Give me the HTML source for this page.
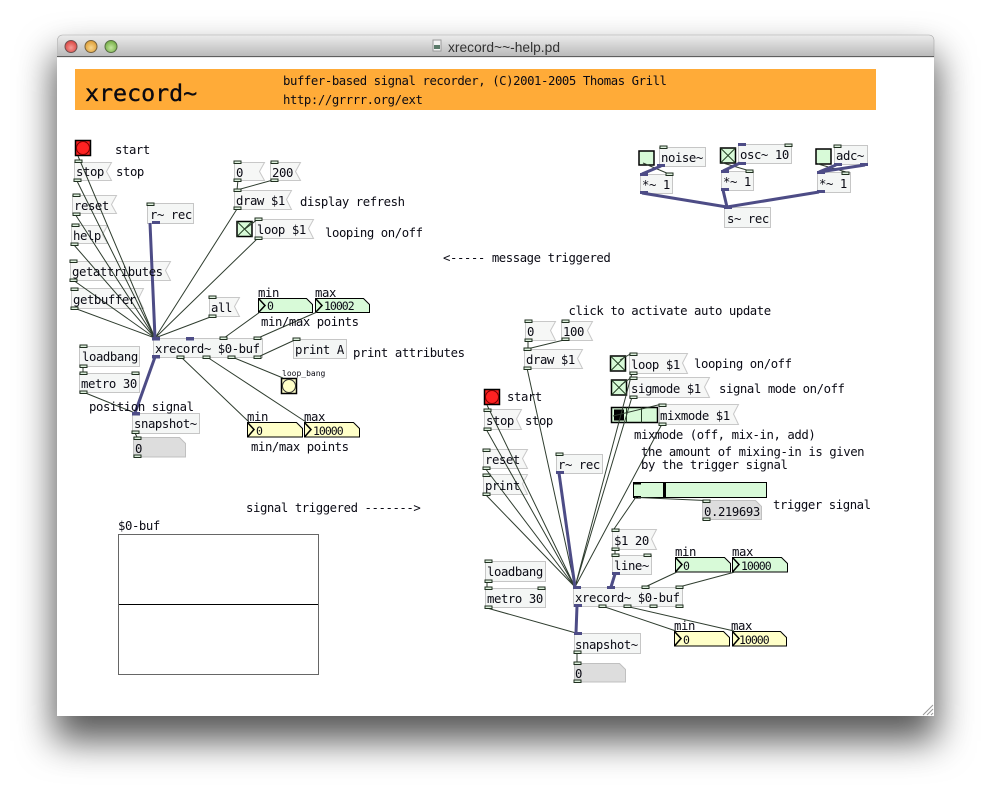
<!DOCTYPE html>
<html><head><meta charset="utf-8"><title>xrecord~~-help.pd</title>
<style>
html,body{margin:0;padding:0;background:#fff;width:991px;height:795px;overflow:hidden}
#win{position:absolute;left:57px;top:35px;width:877px;height:681px;border-radius:5px 5px 0 0;box-shadow:0 22px 36px 3px rgba(0,0,0,.65);background:#fff}
svg{position:absolute;left:0;top:0}
text{font-family:"DejaVu Sans Mono","Liberation Mono",monospace;font-size:12.3px;letter-spacing:-.43px;fill:#0a0a14}
text.n{font-size:11.5px;letter-spacing:-1px}
.m{fill:#f6f7f6;stroke:#c8c8c8}
.o{fill:#f4f6f5;stroke:#c6c6c6}
.g{fill:#ddd;stroke:#c0c0c0}
.gr{fill:#d8fad8;stroke:#000}
.ye{fill:#ffffc8;stroke:#000}
.tg{fill:#d8fad8;stroke:#000;stroke-width:1.5}
.c{stroke:#2f3d2f;stroke-width:1;fill:none}
.s{stroke:#4d4c86;stroke-width:3;fill:none}
.p{fill:#dcefdc;stroke:#1f2f1f;stroke-width:1}
.q{fill:#4d4c86}
</style></head><body>
<div id="win"></div>
<svg width="991" height="795" viewBox="0 0 991 795">
<defs><linearGradient id="tb" x1="0" y1="0" x2="0" y2="1"><stop offset="0" stop-color="#ececec"/><stop offset="1" stop-color="#b8b8b8"/></linearGradient>
<radialGradient id="r1" cx=".5" cy=".6" r=".6"><stop offset="0" stop-color="#f59a96"/><stop offset="1" stop-color="#d8403c"/></radialGradient>
<radialGradient id="r2" cx=".5" cy=".6" r=".6"><stop offset="0" stop-color="#f8d68e"/><stop offset="1" stop-color="#dc9a30"/></radialGradient>
<radialGradient id="r3" cx=".5" cy=".6" r=".6"><stop offset="0" stop-color="#c4e6a0"/><stop offset="1" stop-color="#70ab40"/></radialGradient></defs>
<path d="M57.5 57V40a5 5 0 0 1 5-5H929a5 5 0 0 1 5 5V57Z" fill="url(#tb)" stroke="#a8a8a8" stroke-width=".6"/>
<line x1="57" y1="56.5" x2="934" y2="56.5" stroke="#5e5e5e"/>
<circle cx="71" cy="46.5" r="6" fill="url(#r1)" stroke="#6e5050"/>
<circle cx="91" cy="46.5" r="6" fill="url(#r2)" stroke="#77623e"/>
<circle cx="111" cy="46.5" r="6" fill="url(#r3)" stroke="#566e44"/>
<rect x="433" y="40" width="8" height="11" fill="#f4f4f4" stroke="#999"/><rect x="434" y="45" width="6" height="4" fill="#5b7a6a"/>
<text x="448" y="52" textLength="112" lengthAdjust="spacingAndGlyphs" style="font-family:'Liberation Sans',sans-serif;font-size:14px;letter-spacing:0;fill:#333">xrecord~~-help.pd</text>
<path d="M923 715L933 705M927 715L933 709M931 715L933 713" stroke="#999" fill="none"/>

<rect x="75" y="69" width="801" height="41" fill="#ffab38"/>
<text x="85" y="101" style="font-size:23.3px;letter-spacing:0;stroke:#000;stroke-width:.3">xrecord~</text>
<text x="283" y="85">buffer-based signal recorder, (C)2001-2005 Thomas Grill</text>
<text x="283" y="104">http://grrrr.org/ext</text>

<!-- left patch boxes -->
<rect x="75.5" y="140.5" width="15" height="15" fill="#f22" stroke="#000" stroke-width="1.5"/><circle cx="83" cy="148" r="6.5" fill="#f22" stroke="#700"/>
<polygon class="m" points="74.5,162.5 111.5,162.5 106.5,171.5 111.5,180.5 74.5,180.5"/>
<polygon class="m" points="72.5,195.5 116.5,195.5 111.5,204.5 116.5,213.5 72.5,213.5"/>
<polygon class="m" points="71.5,225.5 107.5,225.5 102.5,234.5 107.5,243.5 71.5,243.5"/>
<polygon class="m" points="70.5,261.5 170.5,261.5 165.5,270.5 170.5,280.5 70.5,280.5"/>
<polygon class="m" points="71.5,288.5 143.5,288.5 138.5,298.5 143.5,308.5 71.5,308.5"/>
<polygon class="m" points="209.5,297.5 239.5,297.5 234.5,306.5 239.5,316.5 209.5,316.5"/>
<rect class="o" x="147.5" y="203.5" width="46" height="20"/>
<polygon class="m" points="234.5,162.5 264.5,162.5 259.5,171.5 264.5,180.5 234.5,180.5"/>
<polygon class="m" points="270.5,162.5 300.5,162.5 295.5,171.5 300.5,180.5 270.5,180.5"/>
<polygon class="m" points="234.5,190.5 291.5,190.5 286.5,199.5 291.5,209.5 234.5,209.5"/>
<rect class="tg" x="237" y="221.5" width="15" height="15"/><path d="M237 221.5L252 236.5M252 221.5L237 236.5" stroke="#264026"/>
<polygon class="m" points="255.5,219.5 313.5,219.5 308.5,228.5 313.5,238.5 255.5,238.5"/>
<polygon class="gr" points="258.5,298.5 306.5,298.5 312.5,304.5 312.5,312.5 258.5,312.5"/><polyline points="258.5,298.5 265,305.5 258.5,312.5" fill="none" stroke="#000" stroke-width="1.5"/>
<polygon class="gr" points="315.5,298.5 363.5,298.5 369.5,304.5 369.5,312.5 315.5,312.5"/><polyline points="315.5,298.5 322,305.5 315.5,312.5" fill="none" stroke="#000" stroke-width="1.5"/>
<rect class="o" x="153.5" y="338.5" width="109" height="19"/>
<rect class="o" x="293.5" y="339.5" width="53" height="19"/>
<rect class="o" x="79.5" y="346.5" width="60" height="20"/>
<rect class="o" x="79.5" y="373.5" width="60" height="19"/>
<rect class="o" x="132.5" y="413.5" width="67" height="20"/>
<polygon class="g" points="133.5,437.5 179.5,437.5 185.5,443.5 185.5,457 133.5,457"/>
<rect x="281.5" y="378.5" width="15" height="15" fill="#ffffc8" stroke="#000" stroke-width="1.5"/><circle cx="289" cy="386" r="6.5" fill="#ffffc8" stroke="#333"/>
<polygon class="ye" points="247.5,422.5 296.5,422.5 302.5,428.5 302.5,437 247.5,437"/><polyline points="247.5,422.5 254,429.5 247.5,437" fill="none" stroke="#000" stroke-width="1.5"/>
<polygon class="ye" points="304.5,422.5 353.5,422.5 359.5,428.5 359.5,437 304.5,437"/><polyline points="304.5,422.5 311,429.5 304.5,437" fill="none" stroke="#000" stroke-width="1.5"/>

<!-- top right boxes -->
<rect class="tg" x="639" y="151" width="15" height="14"/>
<rect class="o" x="659.5" y="147.5" width="46" height="19"/>
<rect class="o" x="640.5" y="174.5" width="32" height="19"/>
<rect class="tg" x="720.5" y="148" width="15" height="15"/><path d="M720.5 148L735.5 163M735.5 148L720.5 163" stroke="#264026"/>
<rect class="o" x="738.5" y="144.5" width="53" height="19"/>
<rect class="o" x="721.5" y="171.5" width="32" height="19"/>
<rect class="tg" x="816" y="149" width="15" height="15"/>
<rect class="o" x="834.5" y="145.5" width="33" height="19"/>
<rect class="o" x="817.5" y="172.5" width="33" height="20"/>
<rect class="o" x="724.5" y="207.5" width="46" height="20"/>

<!-- right patch boxes -->
<polygon class="m" points="525.5,321.5 555.5,321.5 550.5,330.5 555.5,340.5 525.5,340.5"/>
<polygon class="m" points="561.5,321.5 592.5,321.5 587.5,330.5 592.5,340.5 561.5,340.5"/>
<polygon class="m" points="524.5,349.5 582.5,349.5 577.5,358.5 582.5,368.5 524.5,368.5"/>
<rect class="tg" x="610.5" y="356" width="15" height="15"/><path d="M610.5 356L625.5 371M625.5 356L610.5 371" stroke="#264026"/>
<polygon class="m" points="629.5,353.5 687.5,353.5 682.5,363 687.5,373.5 629.5,373.5"/>
<rect class="tg" x="611.5" y="380" width="15" height="15"/><path d="M611.5 380L626.5 395M626.5 380L611.5 395" stroke="#264026"/>
<polygon class="m" points="629.5,377.5 709.5,377.5 704.5,387 709.5,397.5 629.5,397.5"/>
<rect x="611.5" y="407.5" width="46" height="15" fill="#d8fad8" stroke="#000" stroke-width="1.5"/><rect x="614" y="409.5" width="10" height="11" fill="#000"/><path d="M626.5 407.5V422.5M641.5 407.5V422.5" stroke="#264026"/>
<polygon class="m" points="659.5,404.5 738.5,404.5 733.5,414 738.5,424.5 659.5,424.5"/>
<rect x="484.5" y="389.5" width="15" height="15" fill="#f22" stroke="#000" stroke-width="1.5"/><circle cx="492" cy="397" r="6.5" fill="#f22" stroke="#700"/>
<polygon class="m" points="484.5,409.5 521.5,409.5 516.5,419 521.5,429.5 484.5,429.5"/>
<polygon class="m" points="483.5,449.5 527.5,449.5 522.5,458.5 527.5,468.5 483.5,468.5"/>
<polygon class="m" points="483.5,474.5 527.5,474.5 522.5,484 527.5,494.5 483.5,494.5"/>
<rect class="o" x="556.5" y="454.5" width="46" height="19"/>
<rect x="633.5" y="482.5" width="133" height="15" fill="#d8fad8" stroke="#000"/><rect x="663" y="483" width="3" height="14" fill="#000"/><rect x="634" y="482" width="7" height="2.5" fill="#000"/><rect x="634" y="496" width="7" height="2.5" fill="#000"/>
<polygon class="g" points="702.5,500.5 755.5,500.5 761.5,506.5 761.5,519.5 702.5,519.5"/>
<polygon class="m" points="612.5,529.5 656.5,529.5 651.5,539 656.5,549.5 612.5,549.5"/>
<rect class="o" x="612.5" y="555.5" width="39" height="19"/>
<polygon class="gr" points="675.5,557.5 724.5,557.5 730.5,563.5 730.5,572 675.5,572"/><polyline points="675.5,557.5 682,564.5 675.5,572" fill="none" stroke="#000" stroke-width="1.5"/>
<polygon class="gr" points="732.5,557.5 781.5,557.5 787.5,563.5 787.5,572 732.5,572"/><polyline points="732.5,557.5 739,564.5 732.5,572" fill="none" stroke="#000" stroke-width="1.5"/>
<rect class="o" x="485.5" y="561.5" width="60" height="20"/>
<rect class="o" x="485.5" y="588.5" width="60" height="19"/>
<rect class="o" x="573.5" y="587.5" width="109" height="19"/>
<rect class="o" x="574.5" y="633.5" width="66" height="20"/>
<polygon class="g" points="574.5,663.5 619.5,663.5 625.5,669.5 625.5,682 574.5,682"/>
<polygon class="ye" points="674.5,631.5 723.5,631.5 729.5,637.5 729.5,646 674.5,646"/><polyline points="674.5,631.5 681,638.5 674.5,646" fill="none" stroke="#000" stroke-width="1.5"/>
<polygon class="ye" points="732.5,631.5 780.5,631.5 786.5,637.5 786.5,646 732.5,646"/><polyline points="732.5,631.5 739,638.5 732.5,646" fill="none" stroke="#000" stroke-width="1.5"/>

<!-- graph -->
<rect x="118.5" y="534.5" width="200" height="140" fill="#fff" stroke="#666"/>
<line x1="119" y1="604.5" x2="318" y2="604.5" stroke="#000"/>

<!-- wires -->
<path class="c" d="M78 156L155 338M77 181L155 338M75 214L155 338M74 245L155 338M73 280L155 338M74 308L155 338M213 316L155 338M237 209L155 338M258 238L155 338M260 312L224 338M317 312L258 338M258 357L297 339M232 357L283 378M181 357L249 422M207 357L306 422M83 392L135 413M83 366V373M238 180L237 190M273 180L237 190M245 229L258 219M135 433L137 437"/>
<path class="s" d="M150 223L155 338M155 357L135 413"/>
<path class="c" d="M643 163L669 174M723 163L750 171M818 164L846 172"/>
<path class="s" d="M661 166L642 174M740 163L723 171M836 165L819 172M865 165L819 172M642 193L727 207M723 190L727 207M819 192L727 207"/>
<path class="c" d="M487 405L575 587M486 429L575 587M485 468L575 587M485 494L575 587M527 368L575 587M632 373L575 587M632 397L575 587M662 424L575 587M613 416L662 404M620 360L632 353M621 385L632 377M636 497L614 529M638 497.5L705 500.5M615 549V555M677 572L645 587M735 572L679 587M602 606L676 631M625 606L734 631M487 608L576 633M577 653V663M487 581V588M528 340V349M564 340L527 349"/>
<path class="s" d="M559 473L575 587M615 574L611 587M577 606L576 633"/>

<!-- ports -->
<g class="p">
<rect x="75" y="160" width="7" height="2.5"/><rect x="74" y="179" width="7" height="2.5"/><rect x="73" y="194" width="7" height="2.5"/><rect x="73" y="213" width="7" height="2.5"/><rect x="72" y="224" width="7" height="2.5"/><rect x="71" y="243" width="7" height="2.5"/><rect x="70" y="260" width="7" height="2.5"/><rect x="70" y="279" width="7" height="2.5"/><rect x="71" y="288" width="7" height="2.5"/><rect x="71" y="307" width="7" height="2.5"/><rect x="209" y="296" width="7" height="2.5"/><rect x="209" y="315" width="7" height="2.5"/>
<rect x="147" y="203" width="7" height="2.5"/><rect x="234" y="161" width="7" height="2.5"/><rect x="234" y="179" width="7" height="2.5"/><rect x="271" y="161" width="7" height="2.5"/><rect x="271" y="179" width="7" height="2.5"/><rect x="234" y="189" width="7" height="2.5"/><rect x="234" y="207" width="7" height="2.5"/><rect x="255" y="218" width="7" height="2.5"/><rect x="255" y="237" width="7" height="2.5"/>
<rect x="220" y="337" width="7" height="2.5"/><rect x="254" y="337" width="7" height="2.5"/><rect x="177" y="356" width="7" height="2.5"/><rect x="203" y="356" width="7" height="2.5"/><rect x="228" y="356" width="7" height="2.5"/><rect x="254" y="356" width="7" height="2.5"/><rect x="293" y="338" width="7" height="2.5"/>
<rect x="80" y="345" width="7" height="2.5"/><rect x="80" y="365" width="7" height="2.5"/><rect x="80" y="372" width="7" height="2.5"/><rect x="132" y="372" width="7" height="2.5"/><rect x="80" y="391" width="7" height="2.5"/><rect x="132" y="431" width="7" height="2.5"/><rect x="134" y="437" width="7" height="2.5"/><rect x="134" y="455" width="7" height="2.5"/>
<rect x="660" y="146" width="7" height="2.5"/><rect x="666" y="173" width="7" height="2.5"/><rect x="785" y="144" width="7" height="2.5"/><rect x="746" y="170" width="7" height="2.5"/><rect x="834" y="145" width="7" height="2.5"/><rect x="842" y="172" width="7" height="2.5"/>
<rect x="525" y="320" width="7" height="2.5"/><rect x="525" y="339" width="7" height="2.5"/><rect x="562" y="320" width="7" height="2.5"/><rect x="562" y="338" width="7" height="2.5"/><rect x="524" y="348" width="7" height="2.5"/><rect x="524" y="367" width="7" height="2.5"/>
<rect x="630" y="353" width="7" height="2.5"/><rect x="630" y="372" width="7" height="2.5"/><rect x="630" y="377" width="7" height="2.5"/><rect x="630" y="396" width="7" height="2.5"/><rect x="659" y="404" width="7" height="2.5"/><rect x="659" y="423" width="7" height="2.5"/>
<rect x="484" y="409" width="7" height="2.5"/><rect x="484" y="428" width="7" height="2.5"/><rect x="483" y="449" width="7" height="2.5"/><rect x="483" y="467" width="7" height="2.5"/><rect x="483" y="474" width="7" height="2.5"/><rect x="483" y="493" width="7" height="2.5"/><rect x="556" y="453" width="7" height="2.5"/>
<rect x="703" y="500" width="7" height="2.5"/><rect x="703" y="518" width="7" height="2.5"/><rect x="612" y="529" width="7" height="2.5"/><rect x="612" y="548" width="7" height="2.5"/><rect x="612" y="554" width="7" height="2.5"/><rect x="644" y="554" width="7" height="2.5"/>
<rect x="485" y="560" width="7" height="2.5"/><rect x="485" y="580" width="7" height="2.5"/><rect x="485" y="587" width="7" height="2.5"/><rect x="538" y="587" width="7" height="2.5"/><rect x="485" y="606" width="7" height="2.5"/>
<rect x="642" y="586" width="7" height="2.5"/><rect x="676" y="586" width="7" height="2.5"/><rect x="599" y="605" width="7" height="2.5"/><rect x="624" y="605" width="7" height="2.5"/><rect x="650" y="605" width="7" height="2.5"/><rect x="676" y="605" width="7" height="2.5"/>
<rect x="574" y="651" width="7" height="2.5"/><rect x="574" y="662" width="7" height="2.5"/><rect x="574" y="680" width="7" height="2.5"/>
</g>
<g class="q">
<rect x="152" y="221" width="8" height="3"/><rect x="152" y="337" width="8" height="3.5"/><rect x="186" y="337" width="8" height="3.5"/><rect x="152" y="355" width="8" height="3.5"/><rect x="132" y="412" width="8" height="3.5"/>
<rect x="640" y="173" width="8" height="3"/><rect x="657" y="164" width="8" height="3"/><rect x="640" y="191" width="8" height="3"/><rect x="738" y="143" width="8" height="3"/><rect x="738" y="162" width="8" height="3"/><rect x="721" y="170" width="8" height="3"/><rect x="721" y="188" width="8" height="3"/><rect x="817" y="171" width="8" height="3"/><rect x="817" y="190" width="8" height="3"/><rect x="834" y="163" width="8" height="3"/><rect x="860" y="163" width="8" height="3"/><rect x="724" y="206" width="8" height="3"/>
<rect x="556" y="471" width="8" height="3"/><rect x="612" y="572" width="8" height="3"/><rect x="573" y="586" width="8" height="3"/><rect x="607" y="586" width="8" height="3"/><rect x="574" y="604" width="8" height="3"/><rect x="574" y="632" width="8" height="3"/>
</g>

<!-- text -->
<text x="115" y="154">start</text><text x="116" y="176">stop</text>
<text x="76" y="176">stop</text><text x="74" y="210">reset</text><text x="73" y="240">help</text>
<text x="72" y="276">getattributes</text><text x="73" y="304">getbuffer</text><text x="211" y="312">all</text>
<text x="150" y="219">r~ rec</text><text x="236" y="177">0</text><text x="272" y="177">200</text>
<text x="236" y="205">draw $1</text><text x="300" y="206">display refresh</text>
<text x="257" y="234">loop $1</text><text x="325" y="237">looping on/off</text>
<text x="443" y="262">&lt;----- message triggered</text>
<text x="258" y="297">min</text><text x="315" y="297">max</text>
<text class="n" x="267" y="310">0</text><text class="n" x="324" y="310">10002</text>
<text x="261" y="326">min/max points</text>
<text x="155" y="353">xrecord~ $0-buf</text><text x="295" y="354">print A</text><text x="353" y="357">print attributes</text>
<text x="82" y="361">loadbang</text><text x="81" y="388">metro 30</text><text x="89" y="411">position signal</text>
<text x="134" y="428">snapshot~</text><text x="135" y="453">0</text>
<text x="282" y="376" style="font-size:8px;letter-spacing:0">loop_bang</text>
<text x="247" y="421">min</text><text x="304" y="421">max</text>
<text class="n" x="256" y="435">0</text><text class="n" x="313" y="435">10000</text>
<text x="251" y="451">min/max points</text>
<text x="118" y="530">$0-buf</text><text x="246" y="512">signal triggered -------&gt;</text>

<text x="661" y="162">noise~</text><text x="642" y="189">*~ 1</text><text x="740" y="159">osc~ 10</text><text x="723" y="186">*~ 1</text><text x="836" y="160">adc~</text><text x="819" y="188">*~ 1</text><text x="727" y="223">s~ rec</text>

<text x="568.5" y="315">click to activate auto update</text>
<text x="527" y="336">0</text><text x="563" y="336">100</text><text x="526" y="364">draw $1</text>
<text x="631" y="369">loop $1</text><text x="694" y="368">looping on/off</text>
<text x="631" y="393">sigmode $1</text><text x="719" y="393">signal mode on/off</text>
<text x="660" y="420">mixmode $1</text><text x="634" y="439">mixmode (off, mix-in, add)</text>
<text x="641" y="456">the amount of mixing-in is given</text><text x="641" y="469">by the trigger signal</text>
<text x="507" y="401">start</text><text x="486" y="425">stop</text><text x="525" y="425">stop</text>
<text x="485" y="464">reset</text><text x="485" y="490">print</text><text x="558" y="469">r~ rec</text>
<text x="704" y="516">0.219693</text><text x="773" y="509">trigger signal</text>
<text x="614" y="545">$1 20</text><text x="614" y="570">line~</text>
<text x="675" y="556">min</text><text x="732" y="556">max</text>
<text class="n" x="683" y="570">0</text><text class="n" x="741" y="570">10000</text>
<text x="487" y="576">loadbang</text><text x="487" y="603">metro 30</text>
<text x="575" y="602">xrecord~ $0-buf</text><text x="575" y="649">snapshot~</text><text x="575" y="678">0</text>
<text x="674" y="630">min</text><text x="731" y="630">max</text>
<text class="n" x="683" y="644">0</text><text class="n" x="739" y="644">10000</text>
</svg>
</body></html>
